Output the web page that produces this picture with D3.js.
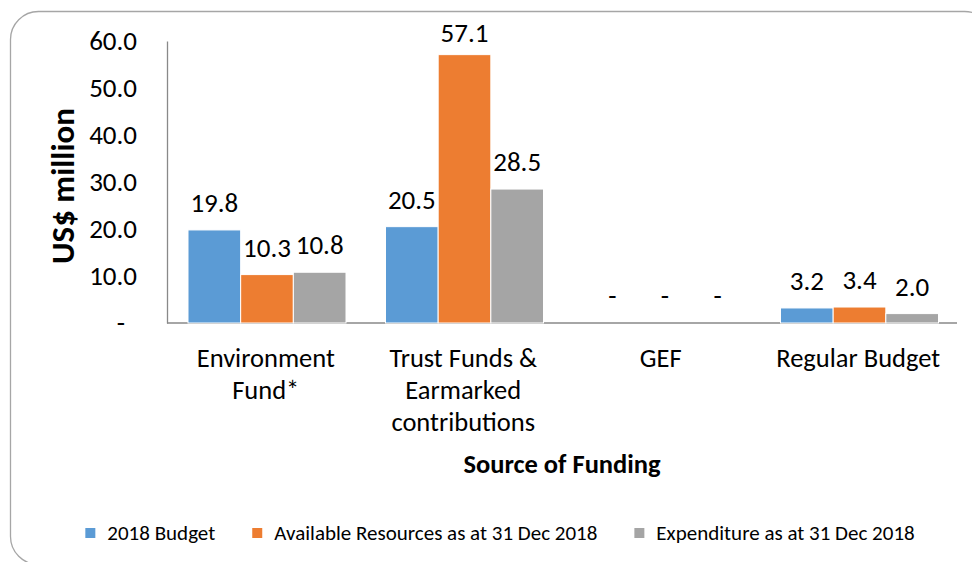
<!DOCTYPE html>
<html>
<head>
<meta charset="utf-8">
<script src="https://d3js.org/d3.v7.min.js"></script>
<style>
  body { margin: 0; background: #fff; }
  text { font-family: Carlito, Calibri, Lato, sans-serif; fill: #000; }
</style>
</head>
<body>
<svg id="chart" width="972" height="562"></svg>
<script>
// chart data
const categories = [["Environment", "Fund*"], ["Trust Funds &", "Earmarked", "contributions"], ["GEF"], ["Regular Budget"]];
const seriesNames = ["2018 Budget", "Available Resources as at 31 Dec 2018", "Expenditure as at 31 Dec 2018"];
const budget = [19.8, 20.5, 0, 3.2];
const available = [10.3, 57.1, 0, 3.4];
const expenditure = [10.8, 28.5, 0, 2.0];
const yTicks = [0, 10, 20, 30, 40, 50, 60];
const colors = ["#5B9BD5", "#ED7D31", "#A5A5A5"];

const svg = d3.select("#chart");

// outer rounded frame
svg.append("rect")
  .attr("x", 10.5).attr("y", 11.5)
  .attr("width", 982).attr("height", 553)
  .attr("rx", 28).attr("ry", 28)
  .attr("fill", "none").attr("stroke", "#A6A6A6").attr("stroke-width", 1.3);

const plotL = 167, plotR = 957, plotT = 41, plotB = 323;
const catKeys = categories.map((c, i) => i);
const x0 = d3.scaleBand().domain(catKeys).range([plotL, plotR]).padding(0);
const x1 = d3.scaleBand().domain([0, 1, 2]).range([21, 179]).padding(0);
const y = d3.scaleLinear().domain([0, 60]).range([plotB, plotT]);

const fmt = v => v === 0 ? "-" : v.toFixed(1);

// y axis
const yAxis = svg.append("g")
  .attr("transform", `translate(${plotL},0)`)
  .call(d3.axisLeft(y).tickValues(yTicks).tickFormat(fmt).tickSize(0).tickPadding(30));
yAxis.select(".domain").attr("stroke", "#898989").attr("stroke-width", 1.3);
yAxis.selectAll("text")
  .style("font-size", "27px")
  .attr("dx", d => d === 0 ? -12 : 0);

// x axis line
svg.append("line")
  .attr("x1", plotL).attr("x2", plotR)
  .attr("y1", y(0)).attr("y2", y(0))
  .attr("stroke", "#898989").attr("stroke-width", 1.3);

const data = catKeys.map(i => ({ i, vals: [budget[i], available[i], expenditure[i]] }));

const groups = svg.append("g").selectAll("g")
  .data(data).join("g")
  .attr("transform", d => `translate(${x0(d.i)},0)`);

groups.selectAll("rect")
  .data(d => d.vals.map((v, k) => ({ v, k })))
  .join("rect")
  .attr("x", d => x1(d.k))
  .attr("y", d => y(d.v))
  .attr("width", x1.bandwidth())
  .attr("height", d => y(0) - y(d.v))
  .attr("fill", d => colors[d.k])
  .attr("stroke", "#fff").attr("stroke-width", 1);

groups.selectAll("text.val")
  .data(d => d.vals.map((v, k) => ({ v, k })))
  .join("text")
  .attr("class", "val")
  .attr("x", d => x1(d.k) + x1.bandwidth() / 2 + (d.v === 0 ? 3 : 0))
  .attr("y", d => Math.max(y(d.v) - 18, 42))
  .attr("text-anchor", "middle")
  .style("font-size", "27px")
  .text(d => fmt(d.v));

// category labels
const catLabels = svg.append("g").selectAll("text")
  .data(data).join("text")
  .attr("x", d => x0(d.i) + x0.bandwidth() / 2)
  .attr("y", 367)
  .attr("text-anchor", "middle")
  .style("font-size", "26.5px");
catLabels.selectAll("tspan")
  .data(d => categories[d.i])
  .join("tspan")
  .attr("x", function () { return this.parentNode.getAttribute("x"); })
  .attr("dy", (d, k) => k === 0 ? 0 : 32)
  .text(d => d);

// axis titles
svg.append("text")
  .attr("x", (plotL + plotR) / 2).attr("y", 473)
  .attr("text-anchor", "middle")
  .style("font-size", "26.5px").style("font-weight", "bold")
  .text("Source of Funding");

svg.append("text")
  .attr("transform", `translate(74,${(plotT + plotB) / 2 + 4}) rotate(-90)`)
  .attr("text-anchor", "middle")
  .style("font-size", "33px").style("font-weight", "bold")
  .text("US$ million");

// legend
const legend = svg.append("g");
let lx = 0;
seriesNames.forEach((name, k) => {
  const item = legend.append("g").attr("transform", `translate(${lx},0)`);
  item.append("rect").attr("x", 0).attr("y", -12).attr("width", 10).attr("height", 10).attr("fill", colors[k]);
  const t = item.append("text").attr("x", 22).attr("y", 0).style("font-size", "21px").text(name);
  lx += 22 + t.node().getComputedTextLength() + 37;
});
const lw = lx - 37;
legend.attr("transform", `translate(${500 - lw / 2},540)`);
</script>
</body>
</html>
